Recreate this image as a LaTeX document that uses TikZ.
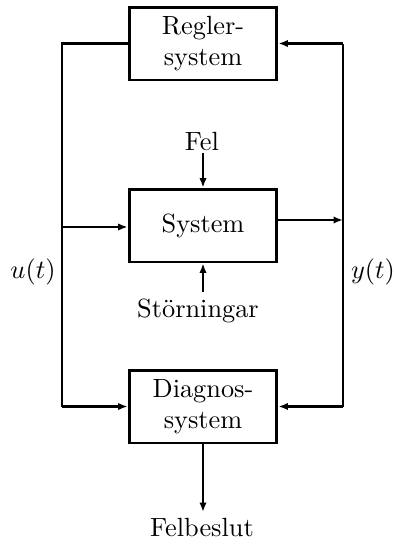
\documentclass[tikz,border=0pt]{standalone}
\usetikzlibrary{arrows.meta}
\begin{document}
\begin{tikzpicture}[x=0.38pt,y=-0.38pt,
  blk/.style={draw,line width=1.1pt,minimum width=56.2pt,minimum height=27.7pt,inner sep=0pt,align=center},
  conn/.style={line width=0.8pt},
  arr/.style={conn,-{Latex[length=3.6pt,width=2.8pt]}},
  lbl/.style={inner sep=0pt}]
\useasboundingbox (0,0) rectangle (394,546);
\node[blk] (R) at (203,43.5) {Regler-\\system};
\node[blk] (S) at (203,225.5) {System};
\node[blk] (D) at (203,406.5) {Diagnos-\\system};
\node[lbl,anchor=base] (Fel) at (202,150) {Fel};
\node[lbl,anchor=base] (St) at (198,317) {St\"orningar};
\node[lbl,anchor=base] (FB) at (202,536) {Felbeslut};
\node[lbl] (u) at (33,272) {$u(t)$};
\node[lbl] (y) at (373,272) {$y(t)$};
\coordinate (lt) at (62,43.5);
\coordinate (lm) at (62,227);
\coordinate (lb) at (62,406.5);
\coordinate (rt) at (343,43.5);
\coordinate (rm) at (343,220);
\coordinate (rb) at (343,406.5);
\coordinate (fe) at (203,512);
\draw[conn] (R.west) -- (lt) -- (lb);
\draw[arr] (lb) -- (D.west);
\draw[arr] (lm) -- (lm -| S.west);
\draw[conn] (rb) -- (rt);
\draw[arr] (rt) -- (R.east);
\draw[arr] (rb) -- (D.east);
\draw[arr] (S.east |- rm) -- (rm);
\draw[arr] (S.north |- Fel.south) ++(0,2) -- (S.north);
\draw[arr] (S.south |- St.north) ++(0,-6) -- (S.south);
\draw[arr] (D.south) -- (fe);
\end{tikzpicture}
\end{document}
